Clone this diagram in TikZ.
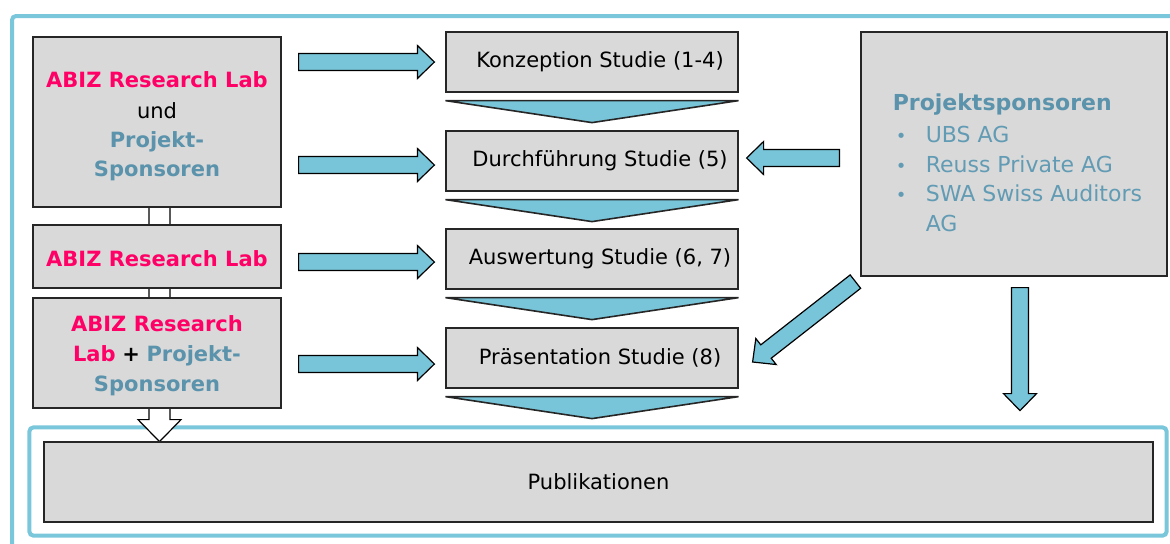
\documentclass[tikz,border=0pt]{standalone}
\usepackage{fontspec}
\setmainfont{DejaVu Sans}
\usetikzlibrary{calc, backgrounds}
\definecolor{abizred}{RGB}{255,0,102}
\definecolor{sponsorblue}{RGB}{90,147,171}
\definecolor{listblue}{RGB}{98,155,180}
\definecolor{frameblue}{RGB}{122,198,218}
\definecolor{arrowblue}{RGB}{120,196,216}
\definecolor{boxgrey}{RGB}{217,217,217}

\tikzset{
  box/.style={draw=black!85, fill=boxgrey, line width=0.6pt, inner sep=0pt, align=center,
    font=\fontsize{10.5}{14.5}\selectfont},
  labbox/.style={box, minimum width=124pt},
  labtext/.style={inner sep=0pt, align=center, font=\fontsize{10.5}{14.5}\selectfont},
  stagebox/.style={box, minimum width=146pt, minimum height=30pt},
  fatarrow/.style={draw=black, fill=arrowblue, line width=0.6pt, line join=miter},
  chevron/.style={draw=black!85, fill=arrowblue, line width=0.8pt},
  frame/.style={draw=frameblue, line width=2pt, rounded corners=2pt},
}

\def\shaft{4.25pt}\def\head{8.25pt}\def\headlen{8.5pt}
\newcommand\fatarrowto[3][]{%
  \coordinate (fh) at ($(#3)!\headlen!(#2)$);
  \path[fatarrow,#1] ($(#2)!\shaft!90:(#3)$) -- ($(fh)!\shaft!90:(#3)$)
    -- ($(fh)!\head!90:(#3)$) -- (#3) -- ($(fh)!\head!-90:(#3)$)
    -- ($(fh)!\shaft!-90:(#3)$) -- ($(#2)!\shaft!-90:(#3)$) -- cycle;}

\newcommand\abiz[1]{\textcolor{abizred}{\bfseries #1}}
\newcommand\spons[1]{\textcolor{sponsorblue}{\bfseries #1}}

\begin{document}
\begin{tikzpicture}[x=0.5pt, y=-0.5pt]
  \useasboundingbox (0,0) rectangle (1170,543);
  \clip (0,0) rectangle (1170,543);

  \node[box, minimum width=554.5pt, minimum height=40pt] (pub) at (598.5,482) {Publikationen};

  \node[labbox, minimum height=85pt] (lab1) at (157,122) {};
  \node[labbox, minimum height=31.5pt] (lab2) at (157,256.5) {};
  \node[labbox, minimum height=55pt] (lab3) at (157,353) {};
  \node[labtext] (lab1txt) at ($(lab1.center)+(0,4)$)
    {\abiz{ABIZ Research Lab}\\[0.8pt]und\\\spons{Projekt-}\\\spons{Sponsoren}};
  \node[labtext] (lab2txt) at ($(lab2.center)+(0,2)$) {\abiz{ABIZ Research Lab}};
  \node[labtext] (lab3txt) at ($(lab3.center)+(0,3)$)
    {\abiz{ABIZ Research}\\[0.5pt]\abiz{Lab} {\bfseries +} \spons{Projekt-}\\[0.5pt]\spons{Sponsoren}};

  \begin{scope}[on background layer]
    \draw[frame] (12,16) rectangle (1190,565);
    \draw[frame] ($(pub.north west)+(-14,-14)$) rectangle ($(pub.south east)+(13,13)$);
    \def\shaft{5.25pt}\def\head{10.75pt}\def\headlen{11pt}
    \coordinate (hs) at ($(lab1.center)+(2.5,0)$);
    \coordinate (he) at ($(lab3.south)+(2.5,33)$);
    \fatarrowto[fill=white]{hs}{he}
  \end{scope}

  \node[stagebox] (conc) at (592,62)  {\hspace*{8pt}Konzeption Studie (1-4)};
  \node[stagebox] (exec) at (592,161) {\hspace*{8pt}Durchführung Studie (5)};
  \node[stagebox] (eval) at (592,259) {\hspace*{8pt}Auswertung Studie (6, 7)};
  \node[stagebox] (pres) at (592,358) {\hspace*{8pt}Präsentation Studie (8)};

  \foreach \s in {conc,exec,eval,pres}
    \path[chevron] ($(\s.south west)+(0,8)$) -- ($(\s.south east)+(0,8)$)
      -- ($(\s.south)+(0,30)$) -- cycle;

  \foreach \s/\dy in {conc/0, exec/4, eval/3, pres/6} {
    \coordinate (ls) at ($(lab1.east |- \s)+(17,\dy)$);
    \coordinate (le) at ($(\s.west)+(-11,\dy)$);
    \fatarrowto{ls}{le}
  }

  \node[box, minimum width=153pt, minimum height=122pt] (sponsors) at (1014,154) {};
  \node[anchor=north west, inner sep=0pt, text=listblue,
    font=\fontsize{11}{14.75}\selectfont] (sponsorlist)
    at ($(sponsors.north west)+(32,58)$) {%
    \begin{tabular}{@{}p{16.5pt}@{}l@{}}
      \multicolumn{2}{@{}l@{}}{\spons{Projektsponsoren}}\\[1.5pt]
      \hspace{1.5pt}{\small •} & UBS AG\\
      \hspace{1.5pt}{\small •} & Reuss Private AG\\
      \hspace{1.5pt}{\small •} & SWA Swiss Auditors\\
       & AG
    \end{tabular}};

  \coordinate (r1s) at ($(sponsors.west)+(-21,4)$);
  \coordinate (r1e) at ($(exec.east)+(8,-3)$);
  \fatarrowto{r1s}{r1e}
  \coordinate (r2s) at ($(sponsors.south west)+(-5,5)$);
  \coordinate (r2e) at ($(pres.east)+(14,4)$);
  \fatarrowto{r2s}{r2e}
  \coordinate (r3s) at ($(sponsors.south)+(6,11)$);
  \coordinate (r3e) at ($(sponsors.south)+(6,134)$);
  \fatarrowto{r3s}{r3e}
\end{tikzpicture}
\end{document}
